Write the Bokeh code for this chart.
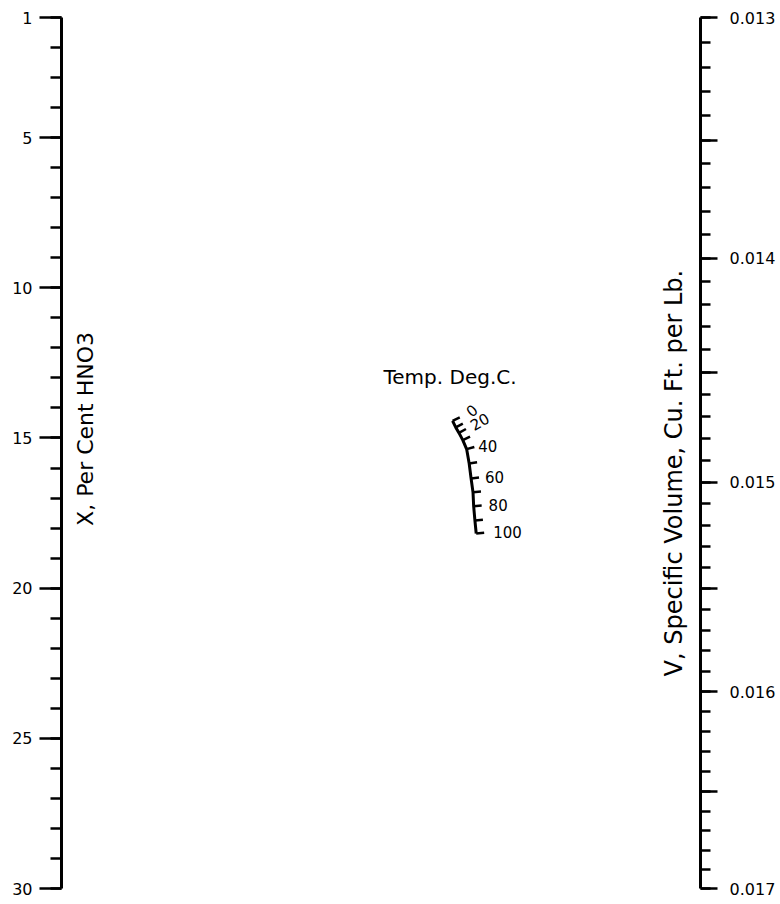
import math
from bokeh.plotting import figure
from bokeh.models import (Range1d, LinearAxis, LogAxis, LogScale, FixedTicker,
                          CustomJSTickFormatter, ColumnDataSource, Label)
from bokeh.embed import file_html
from bokeh.resources import INLINE
from bokeh.core.properties import value

FONT = "DejaVu Sans"

# ---- left scale: X, per cent HNO3 ----
x_major = [1, 5, 10, 15, 20, 25, 30]
x_minor = list(range(1, 31))

# ---- right scale: V, specific volume (log scale) ----
v_major = [0.013, 0.014, 0.015, 0.016, 0.017]
v_half = [0.0135, 0.0145, 0.0155, 0.0165]
v_minor = [round(0.013 + 0.0001 * i, 4) for i in range(41)]

# ---- middle curved scale: temperature, deg C ----
temp_deg = [0, 10, 20, 30, 40, 50, 60, 70, 80, 90, 100]
# position across the chart (0 = X line, 100 = V line)
temp_across = [61.2, 61.7, 62.2, 62.8, 63.4, 63.8, 64.1, 64.4, 64.5, 64.7, 64.9]
# height, read on the X scale
temp_on_x = [14.43, 14.65, 14.83, 15.07, 15.37, 15.85, 16.35, 16.81, 17.27, 17.75, 18.18]
temp_labelled = [0, 20, 40, 60, 80, 100]
temp_label_angle_deg = [40, 30, 0, 0, 0, 0]
temp_label_gap = [17, 14, 12, 14, 15, 17]

FW, FH = 639, 871

p = figure(frame_width=FW, frame_height=FH,
           x_range=Range1d(0, 100), y_range=Range1d(30, 1),
           output_backend="svg", toolbar_location=None,
           x_axis_location=None, y_axis_location=None,
           min_border_left=61, min_border_right=78,
           min_border_top=17, min_border_bottom=14)
p.title.visible = False
p.outline_line_color = None
p.background_fill_color = "white"
p.border_fill_color = "white"
p.grid.grid_line_color = None
p.grid.visible = False

left = LinearAxis(ticker=FixedTicker(ticks=x_major, minor_ticks=x_minor))
left.axis_line_width = 3
left.major_tick_line_width = 2.5
left.minor_tick_line_width = 2.5
left.major_tick_in = 0
left.major_tick_out = 22
left.minor_tick_in = 0
left.minor_tick_out = 11
left.major_label_standoff = 7
left.major_label_text_font = FONT
left.major_label_text_font_size = "16px"
left.major_label_text_color = "black"
p.add_layout(left, "left")

p.extra_y_ranges = {"v": Range1d(0.017, 0.013)}
p.extra_y_scales = {"v": LogScale()}
right = LogAxis(y_range_name="v",
                ticker=FixedTicker(ticks=v_major + v_half, minor_ticks=v_minor),
                formatter=CustomJSTickFormatter(code="""
                    const k = tick * 1000;
                    return Math.abs(k - Math.round(k)) < 1e-6 ? tick.toFixed(3) : "";
                """))
right.axis_line_width = 3
right.major_tick_line_width = 2.5
right.minor_tick_line_width = 2.5
right.major_tick_in = 0
right.major_tick_out = 17
right.minor_tick_in = 0
right.minor_tick_out = 10
right.major_label_standoff = 12
right.major_label_text_font = FONT
right.major_label_text_font_size = "16px"
right.major_label_text_color = "black"
p.add_layout(right, "right")

# temperature scale
sx = FW / 100.0
sy = FH / 29.0
n = len(temp_deg)
angles = []
for i in range(n):
    a = max(i - 1, 0)
    b = min(i + 1, n - 1)
    dx = (temp_across[b] - temp_across[a]) * sx
    dy = (temp_on_x[b] - temp_on_x[a]) * sy
    angles.append(math.atan2(dx, dy))

src = ColumnDataSource(dict(x=temp_across, y=temp_on_x, ang=angles))
p.line("x", "y", source=src, line_width=3, line_color="black")
p.ray("x", "y", source=src, angle="ang", length=8, length_units="screen",
      line_width=2.5, line_color="black")

lx, ly, lt, la, lxo, lyo = [], [], [], [], [], []
for t, ad, g in zip(temp_labelled, temp_label_angle_deg, temp_label_gap):
    i = temp_deg.index(t)
    lx.append(temp_across[i])
    ly.append(temp_on_x[i])
    lt.append(str(t))
    la.append(math.radians(ad))
    a = angles[i]
    lxo.append(g * math.cos(a))
    lyo.append(-g * math.sin(a))
lsrc = ColumnDataSource(dict(x=lx, y=ly, t=lt, a=la, xo=lxo, yo=lyo))
p.text("x", "y", text="t", angle="a", x_offset="xo", y_offset="yo", source=lsrc,
       text_align="left", text_baseline="middle",
       text_font=value(FONT), text_font_size="15px", text_color="black")

p.add_layout(Label(x=3.8, y=14.7, text="X, Per Cent HNO3", angle=math.pi / 2,
                   text_align="center", text_baseline="middle",
                   text_font=FONT, text_font_size="22px", text_color="black"))
p.add_layout(Label(x=95.9, y=16.17, text="V, Specific Volume, Cu. Ft. per Lb.",
                   angle=math.pi / 2, text_align="center", text_baseline="middle",
                   text_font=FONT, text_font_size="24px", text_color="black"))
p.add_layout(Label(x=60.8, y=12.97, text="Temp. Deg.C.",
                   text_align="center", text_baseline="middle",
                   text_font=FONT, text_font_size="20px", text_color="black"))

open("out.html", "w").write(file_html(p, INLINE))
